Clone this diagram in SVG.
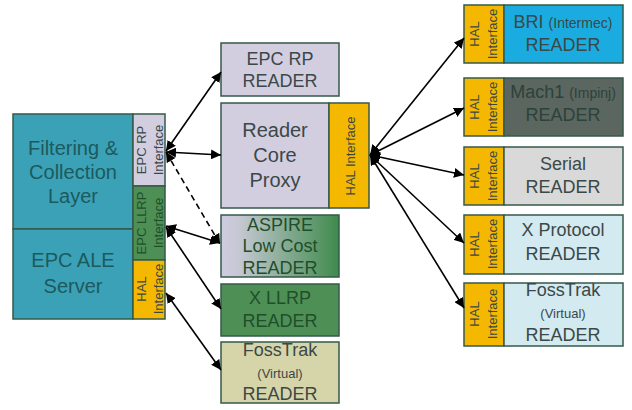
<svg xmlns="http://www.w3.org/2000/svg" width="632" height="410" viewBox="0 0 632 410">
<defs>
<marker id="ah" markerUnits="userSpaceOnUse" markerWidth="10" markerHeight="10" refX="10" refY="5" orient="auto-start-reverse" viewBox="0 0 10 10">
<path d="M0,0 L10,5 L0,10 z" fill="#000"/>
</marker>
<linearGradient id="aspire" x1="0" y1="0" x2="1" y2="0">
<stop offset="0" stop-color="#cfcbe0"/>
<stop offset="0.15" stop-color="#c6c8d3"/>
<stop offset="1" stop-color="#3f8a4d"/>
</linearGradient>
</defs>
<style>
.box{stroke:#355a4a;stroke-width:1.5}
text{font-family:"Liberation Sans",Arial,sans-serif;text-anchor:middle;fill:#3b4848}
.big{font-size:20px}
.med{font-size:18px}
.sm{font-size:13px}
.xs{font-size:14px}
.teal{fill:#1c5a5e}
.dg{fill:#1f4f2a}
.mach{fill:#2d4239}
.hal{fill:#f5b800}
.ln{stroke:#000;stroke-width:1.6;fill:none;marker-start:url(#ah);marker-end:url(#ah)}
.dash{stroke-dasharray:6,4}
</style>
<rect width="632" height="410" fill="#fff"/>

<g id="fcl">
<rect class="box" x="13" y="114" width="120" height="115" fill="#3ba1b6"/>
<text class="big teal" x="73" y="155">Filtering &amp;</text>
<text class="big teal" x="73" y="179">Collection</text>
<text class="big teal" x="73" y="203">Layer</text>
</g>
<g id="ale">
<rect class="box" x="13" y="229" width="120" height="90" fill="#3ba1b6"/>
<text class="big teal" x="73" y="267">EPC ALE</text>
<text class="big teal" x="73" y="293">Server</text>
</g>
<g id="epcrp-if">
<rect class="box" x="133" y="114" width="32" height="72" fill="#d2cee0"/>
<g transform="translate(149,150) rotate(-90)">
<text class="sm" x="0" y="-3">EPC RP</text>
<text class="sm" x="0" y="14">Interface</text>
</g>
</g>
<g id="llrp-if">
<rect class="box" x="133" y="186" width="32" height="74" fill="#4e8f55"/>
<g transform="translate(149,223) rotate(-90)">
<text class="sm dg" x="0" y="-3">EPC LLRP</text>
<text class="sm dg" x="0" y="14">Interface</text>
</g>
</g>
<g id="hal-if-left">
<rect class="box hal" x="133" y="260" width="32" height="59"/>
<g transform="translate(149,289) rotate(-90)">
<text class="sm" x="0" y="-3">HAL</text>
<text class="sm" x="0" y="14">Interface</text>
</g>
</g>

<g id="epcrp-reader">
<rect class="box" x="221" y="43" width="118" height="53" fill="#d2cee0"/>
<text class="med" x="280" y="65">EPC RP</text>
<text class="med" x="280" y="87">READER</text>
</g>
<g id="rcp">
<rect class="box" x="221" y="103" width="108" height="105" fill="#d2cee0"/>
<text class="big" x="275" y="137">Reader</text>
<text class="big" x="275" y="162">Core</text>
<text class="big" x="275" y="187">Proxy</text>
<rect class="box hal" x="329" y="103" width="40" height="105"/>
<g transform="translate(349,156) rotate(-90)">
<text class="sm" x="0" y="6">HAL Interface</text>
</g>
</g>
<g id="aspire-reader">
<rect class="box" x="221" y="215" width="118" height="62" fill="url(#aspire)"/>
<text class="med dg" x="280" y="231">ASPIRE</text>
<text class="med dg" x="280" y="252">Low Cost</text>
<text class="med dg" x="280" y="274">READER</text>
</g>
<g id="xllrp-reader">
<rect class="box" x="221" y="284" width="118" height="52" fill="#4e8f55"/>
<text class="med dg" x="280" y="304">X LLRP</text>
<text class="med dg" x="280" y="327">READER</text>
</g>
<g id="fosstrak-left">
<rect class="box" x="221" y="342" width="118" height="61" fill="#d6d5a9"/>
<text class="med" x="280" y="356">FossTrak</text>
<text class="sm" x="280" y="378">(Virtual)</text>
<text class="med" x="280" y="400">READER</text>
</g>

<g id="bri">
<rect class="box hal" x="464" y="5" width="40" height="58"/>
<g transform="translate(484,34) rotate(-90)">
<text class="sm" x="0" y="-5">HAL</text>
<text class="sm" x="0" y="13">Interface</text>
</g>
<rect class="box" x="504" y="5" width="119" height="58" fill="#1aace0"/>
<text x="563" y="28"><tspan class="med">BRI </tspan><tspan class="xs">(Intermec)</tspan></text>
<text class="med" x="563" y="51">READER</text>
</g>
<g id="mach1">
<rect class="box hal" x="464" y="78" width="40" height="58"/>
<g transform="translate(484,107) rotate(-90)">
<text class="sm" x="0" y="-5">HAL</text>
<text class="sm" x="0" y="13">Interface</text>
</g>
<rect class="box" x="504" y="78" width="119" height="58" fill="#5b6661"/>
<text class="mach" x="563" y="98"><tspan class="med">Mach1 </tspan><tspan class="xs">(Impinj)</tspan></text>
<text class="med mach" x="563" y="121">READER</text>
</g>
<g id="serial">
<rect class="box hal" x="464" y="147" width="40" height="58"/>
<g transform="translate(484,176) rotate(-90)">
<text class="sm" x="0" y="-5">HAL</text>
<text class="sm" x="0" y="13">Interface</text>
</g>
<rect class="box" x="504" y="147" width="119" height="58" fill="#d9d9d9"/>
<text class="med" x="563" y="170">Serial</text>
<text class="med" x="563" y="193">READER</text>
</g>
<g id="xprotocol">
<rect class="box hal" x="464" y="215" width="40" height="59"/>
<g transform="translate(484,244) rotate(-90)">
<text class="sm" x="0" y="-5">HAL</text>
<text class="sm" x="0" y="13">Interface</text>
</g>
<rect class="box" x="504" y="215" width="119" height="59" fill="#d3eaf0"/>
<text class="med" x="563" y="236">X Protocol</text>
<text class="med" x="563" y="260">READER</text>
</g>
<g id="fosstrak-right">
<rect class="box hal" x="464" y="283" width="40" height="63"/>
<g transform="translate(484,314) rotate(-90)">
<text class="sm" x="0" y="-5">HAL</text>
<text class="sm" x="0" y="13">Interface</text>
</g>
<rect class="box" x="504" y="283" width="119" height="63" fill="#d3eaf0"/>
<text class="med" x="563" y="296">FossTrak</text>
<text class="sm" x="563" y="318">(Virtual)</text>
<text class="med" x="563" y="341">READER</text>
</g>

<g id="connectors">
<line class="ln" x1="166" y1="151" x2="221" y2="72"/>
<line class="ln" x1="166" y1="152" x2="221" y2="155"/>
<line class="ln dash" x1="166" y1="152" x2="220" y2="244"/>
<line class="ln" x1="166" y1="226" x2="220" y2="243"/>
<line class="ln" x1="166" y1="227" x2="221" y2="309"/>
<line class="ln" x1="166" y1="293" x2="221" y2="370"/>
<line class="ln" x1="370" y1="155" x2="464" y2="38"/>
<line class="ln" x1="370" y1="155" x2="464" y2="108"/>
<line class="ln" x1="370" y1="155" x2="464" y2="175"/>
<line class="ln" x1="370" y1="155" x2="464" y2="243"/>
<line class="ln" x1="370" y1="155" x2="464" y2="308"/>
</g>
</svg>
